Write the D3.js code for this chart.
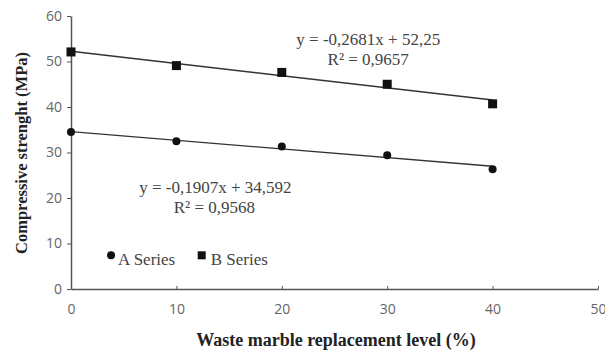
<!DOCTYPE html>
<html>
<head>
<meta charset="utf-8">
<script src="https://cdn.jsdelivr.net/npm/d3@7"></script>
<style>
	body { margin: 0; background: #fff; }
	.tick text { font-family: "Open Sans", "DejaVu Sans", sans-serif; font-size: 14px; fill: #666; }
	.axis path, .axis line { stroke: #555; }
	.title { font-family: "Liberation Serif", serif; font-weight: bold; fill: #222; }
	.eq { font-family: "Liberation Serif", serif; font-size: 17px; fill: #444; }
</style>
</head>
<body>
<div id="chart"></div>
<script>

var levels = [0, 10, 20, 30, 40];
var seriesA = [34.5, 32.5, 31.3, 29.4, 26.3];
var seriesB = [52.1, 49.1, 47.6, 45.0, 40.7];
var xTicks = [0, 10, 20, 30, 40, 50];
var yTicks = [0, 10, 20, 30, 40, 50, 60];
var trendA = { slope: -0.1907, intercept: 34.592, r2: "0,9568", label: "y = -0,1907x + 34,592" };
var trendB = { slope: -0.2681, intercept: 52.25, r2: "0,9657", label: "y = -0,2681x + 52,25" };

var margin = {top: 16, right: 7, bottom: 67, left: 71},
	width = 605 - margin.left - margin.right,
	height = 356 - margin.top - margin.bottom;

var x = d3.scaleLinear().domain([0, 50]).range([0, width]);
var y = d3.scaleLinear().domain([0, 60]).range([height, 0]);

var svg = d3.select("#chart").append("svg")
	.attr("width", 605)
	.attr("height", 356);

var g = svg.append("g")
	.attr("transform", "translate(" + margin.left + "," + margin.top + ")");

// y axis
g.append("g")
	.attr("class", "axis")
	.call(d3.axisLeft(y).tickValues(yTicks).tickSize(4).tickSizeOuter(0))
	.call(function(s) { s.selectAll("text").attr("dx", "-2"); });

// x axis (ticks point up a bit)
g.append("g")
	.attr("class", "axis")
	.attr("transform", "translate(0," + height + ")")
	.call(d3.axisBottom(x).tickValues(xTicks).tickSize(-3).tickSizeOuter(0).tickPadding(15));

g.selectAll(".axis path").attr("stroke-width", 1.5);

// trendlines
var line = d3.line().x(function(d) { return x(d[0]); }).y(function(d) { return y(d[1]); });
[trendA, trendB].forEach(function(t) {
	var pts = [0, 40].map(function(v) { return [v, t.slope * v + t.intercept]; });
	g.append("path")
		.attr("d", line(pts))
		.attr("fill", "none")
		.attr("stroke", "#333")
		.attr("stroke-width", 1.4);
});

// points
g.selectAll("circle.a")
	.data(levels)
	.enter().append("circle")
	.attr("class", "a")
	.attr("cx", function(d) { return x(d); })
	.attr("cy", function(d, i) { return y(seriesA[i]); })
	.attr("r", 4)
	.attr("fill", "#111");

g.selectAll("rect.b")
	.data(levels)
	.enter().append("rect")
	.attr("class", "b")
	.attr("x", function(d) { return x(d) - 4.5; })
	.attr("y", function(d, i) { return y(seriesB[i]) - 4.5; })
	.attr("width", 9)
	.attr("height", 9)
	.attr("fill", "#111");

// equations
g.append("text").attr("class", "eq").attr("text-anchor", "middle")
	.attr("x", x(28.2)).attr("y", y(53.6)).text(trendB.label);
g.append("text").attr("class", "eq").attr("text-anchor", "middle")
	.attr("x", x(28.2)).attr("y", y(49.2)).text("R² = " + trendB.r2);
g.append("text").attr("class", "eq").attr("text-anchor", "middle")
	.attr("x", x(13.7)).attr("y", y(21.1)).text(trendA.label);
g.append("text").attr("class", "eq").attr("text-anchor", "middle")
	.attr("x", x(13.6)).attr("y", y(16.7)).text("R² = " + trendA.r2);

// legend
var legend = g.append("g").attr("transform", "translate(" + x(3.8) + "," + y(7.4) + ")");
legend.append("circle").attr("r", 4).attr("fill", "#111");
legend.append("text").attr("class", "eq").attr("x", 7).attr("y", 10).text("A Series");
legend.append("rect").attr("x", x(8.6) - 4).attr("y", -4).attr("width", 8).attr("height", 8).attr("fill", "#111");
legend.append("text").attr("class", "eq").attr("x", x(8.6) + 9).attr("y", 10).text("B Series");

// axis titles
svg.append("text")
	.attr("class", "title")
	.attr("font-size", 16.5)
	.attr("text-anchor", "middle")
	.attr("transform", "translate(27," + 153 + ")rotate(-90)")
	.text("Compressive strenght (MPa)");

svg.append("text")
	.attr("class", "title")
	.attr("font-size", 18)
	.attr("text-anchor", "middle")
	.attr("x", 336)
	.attr("y", 346)
	.text("Waste marble replacement level (%)");

</script>
</body>
</html>
